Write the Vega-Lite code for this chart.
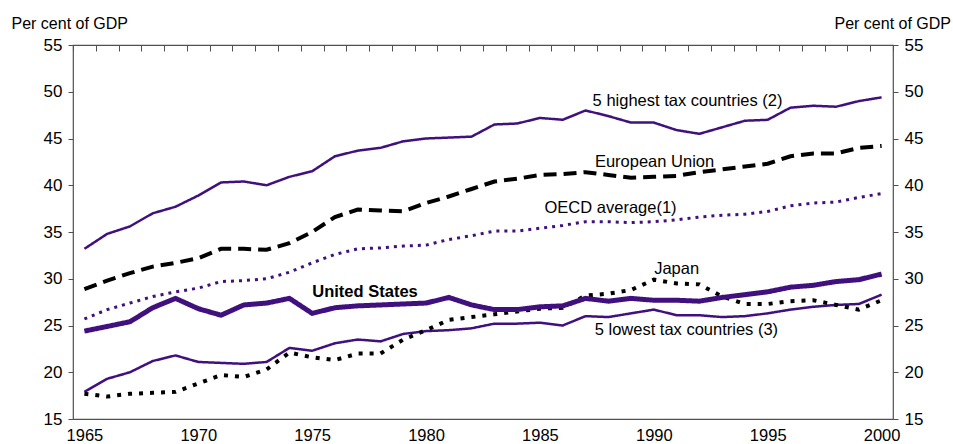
{
  "$schema": "https://vega.github.io/schema/vega-lite/v6.json",
  "autosize": {"type": "none"},
  "width": 820,
  "height": 374,
  "padding": {"left": 73, "top": 45, "right": 60, "bottom": 25},
  "config": {
    "font": "Liberation Sans",
    "view": {"stroke": "#505050", "strokeWidth": 1.2},
    "axis": {"grid": false, "labelFont": "Liberation Sans", "titleFont": "Liberation Sans", "labelColor": "#000", "titleColor": "#000", "labelFontSize": 17, "titleFontSize": 16, "titleFontWeight": "normal", "tickColor": "#505050", "domainColor": "#505050"}
  },
  "datasets": {
    "series": [
      {"year":1965,"s":"high","v":33.2},{"year":1966,"s":"high","v":34.8},{"year":1967,"s":"high","v":35.6},{"year":1968,"s":"high","v":37.0},{"year":1969,"s":"high","v":37.7},{"year":1970,"s":"high","v":38.9},{"year":1971,"s":"high","v":40.3},{"year":1972,"s":"high","v":40.4},{"year":1973,"s":"high","v":40.0},{"year":1974,"s":"high","v":40.9},{"year":1975,"s":"high","v":41.5},{"year":1976,"s":"high","v":43.1},{"year":1977,"s":"high","v":43.7},{"year":1978,"s":"high","v":44.0},{"year":1979,"s":"high","v":44.7},{"year":1980,"s":"high","v":45.0},{"year":1981,"s":"high","v":45.1},{"year":1982,"s":"high","v":45.2},{"year":1983,"s":"high","v":46.5},{"year":1984,"s":"high","v":46.6},{"year":1985,"s":"high","v":47.2},{"year":1986,"s":"high","v":47.0},{"year":1987,"s":"high","v":48.0},{"year":1988,"s":"high","v":47.4},{"year":1989,"s":"high","v":46.7},{"year":1990,"s":"high","v":46.7},{"year":1991,"s":"high","v":45.9},{"year":1992,"s":"high","v":45.5},{"year":1993,"s":"high","v":46.2},{"year":1994,"s":"high","v":46.9},{"year":1995,"s":"high","v":47.0},{"year":1996,"s":"high","v":48.3},{"year":1997,"s":"high","v":48.5},{"year":1998,"s":"high","v":48.4},{"year":1999,"s":"high","v":49.0},{"year":2000,"s":"high","v":49.4},
      {"year":1965,"s":"eu","v":28.9},{"year":1966,"s":"eu","v":29.8},{"year":1967,"s":"eu","v":30.6},{"year":1968,"s":"eu","v":31.3},{"year":1969,"s":"eu","v":31.7},{"year":1970,"s":"eu","v":32.2},{"year":1971,"s":"eu","v":33.2},{"year":1972,"s":"eu","v":33.2},{"year":1973,"s":"eu","v":33.1},{"year":1974,"s":"eu","v":33.8},{"year":1975,"s":"eu","v":35.0},{"year":1976,"s":"eu","v":36.6},{"year":1977,"s":"eu","v":37.4},{"year":1978,"s":"eu","v":37.3},{"year":1979,"s":"eu","v":37.2},{"year":1980,"s":"eu","v":38.1},{"year":1981,"s":"eu","v":38.8},{"year":1982,"s":"eu","v":39.6},{"year":1983,"s":"eu","v":40.4},{"year":1984,"s":"eu","v":40.7},{"year":1985,"s":"eu","v":41.1},{"year":1986,"s":"eu","v":41.2},{"year":1987,"s":"eu","v":41.4},{"year":1988,"s":"eu","v":41.1},{"year":1989,"s":"eu","v":40.8},{"year":1990,"s":"eu","v":40.9},{"year":1991,"s":"eu","v":41.0},{"year":1992,"s":"eu","v":41.4},{"year":1993,"s":"eu","v":41.7},{"year":1994,"s":"eu","v":42.0},{"year":1995,"s":"eu","v":42.3},{"year":1996,"s":"eu","v":43.1},{"year":1997,"s":"eu","v":43.4},{"year":1998,"s":"eu","v":43.4},{"year":1999,"s":"eu","v":44.0},{"year":2000,"s":"eu","v":44.2},
      {"year":1965,"s":"oecd","v":25.7},{"year":1966,"s":"oecd","v":26.7},{"year":1967,"s":"oecd","v":27.4},{"year":1968,"s":"oecd","v":28.1},{"year":1969,"s":"oecd","v":28.6},{"year":1970,"s":"oecd","v":29.0},{"year":1971,"s":"oecd","v":29.7},{"year":1972,"s":"oecd","v":29.8},{"year":1973,"s":"oecd","v":30.0},{"year":1974,"s":"oecd","v":30.7},{"year":1975,"s":"oecd","v":31.7},{"year":1976,"s":"oecd","v":32.6},{"year":1977,"s":"oecd","v":33.2},{"year":1978,"s":"oecd","v":33.3},{"year":1979,"s":"oecd","v":33.5},{"year":1980,"s":"oecd","v":33.6},{"year":1981,"s":"oecd","v":34.2},{"year":1982,"s":"oecd","v":34.6},{"year":1983,"s":"oecd","v":35.1},{"year":1984,"s":"oecd","v":35.1},{"year":1985,"s":"oecd","v":35.4},{"year":1986,"s":"oecd","v":35.7},{"year":1987,"s":"oecd","v":36.1},{"year":1988,"s":"oecd","v":36.1},{"year":1989,"s":"oecd","v":36.0},{"year":1990,"s":"oecd","v":36.1},{"year":1991,"s":"oecd","v":36.3},{"year":1992,"s":"oecd","v":36.6},{"year":1993,"s":"oecd","v":36.8},{"year":1994,"s":"oecd","v":36.9},{"year":1995,"s":"oecd","v":37.2},{"year":1996,"s":"oecd","v":37.8},{"year":1997,"s":"oecd","v":38.1},{"year":1998,"s":"oecd","v":38.2},{"year":1999,"s":"oecd","v":38.7},{"year":2000,"s":"oecd","v":39.1},
      {"year":1965,"s":"low","v":17.9},{"year":1966,"s":"low","v":19.3},{"year":1967,"s":"low","v":20.0},{"year":1968,"s":"low","v":21.2},{"year":1969,"s":"low","v":21.8},{"year":1970,"s":"low","v":21.1},{"year":1971,"s":"low","v":21.0},{"year":1972,"s":"low","v":20.9},{"year":1973,"s":"low","v":21.1},{"year":1974,"s":"low","v":22.6},{"year":1975,"s":"low","v":22.3},{"year":1976,"s":"low","v":23.1},{"year":1977,"s":"low","v":23.5},{"year":1978,"s":"low","v":23.3},{"year":1979,"s":"low","v":24.1},{"year":1980,"s":"low","v":24.4},{"year":1981,"s":"low","v":24.5},{"year":1982,"s":"low","v":24.7},{"year":1983,"s":"low","v":25.2},{"year":1984,"s":"low","v":25.2},{"year":1985,"s":"low","v":25.3},{"year":1986,"s":"low","v":25.0},{"year":1987,"s":"low","v":26.0},{"year":1988,"s":"low","v":25.9},{"year":1989,"s":"low","v":26.3},{"year":1990,"s":"low","v":26.7},{"year":1991,"s":"low","v":26.1},{"year":1992,"s":"low","v":26.1},{"year":1993,"s":"low","v":25.9},{"year":1994,"s":"low","v":26.0},{"year":1995,"s":"low","v":26.3},{"year":1996,"s":"low","v":26.7},{"year":1997,"s":"low","v":27.0},{"year":1998,"s":"low","v":27.2},{"year":1999,"s":"low","v":27.3},{"year":2000,"s":"low","v":28.3},
      {"year":1965,"s":"japan","v":17.7},{"year":1966,"s":"japan","v":17.4},{"year":1967,"s":"japan","v":17.7},{"year":1968,"s":"japan","v":17.8},{"year":1969,"s":"japan","v":17.9},{"year":1970,"s":"japan","v":18.8},{"year":1971,"s":"japan","v":19.7},{"year":1972,"s":"japan","v":19.5},{"year":1973,"s":"japan","v":20.3},{"year":1974,"s":"japan","v":22.1},{"year":1975,"s":"japan","v":21.6},{"year":1976,"s":"japan","v":21.3},{"year":1977,"s":"japan","v":22.0},{"year":1978,"s":"japan","v":22.0},{"year":1979,"s":"japan","v":23.5},{"year":1980,"s":"japan","v":24.5},{"year":1981,"s":"japan","v":25.6},{"year":1982,"s":"japan","v":25.9},{"year":1983,"s":"japan","v":26.2},{"year":1984,"s":"japan","v":26.5},{"year":1985,"s":"japan","v":26.8},{"year":1986,"s":"japan","v":26.9},{"year":1987,"s":"japan","v":28.2},{"year":1988,"s":"japan","v":28.4},{"year":1989,"s":"japan","v":28.8},{"year":1990,"s":"japan","v":29.9},{"year":1991,"s":"japan","v":29.5},{"year":1992,"s":"japan","v":29.4},{"year":1993,"s":"japan","v":28.1},{"year":1994,"s":"japan","v":27.3},{"year":1995,"s":"japan","v":27.3},{"year":1996,"s":"japan","v":27.6},{"year":1997,"s":"japan","v":27.7},{"year":1998,"s":"japan","v":27.2},{"year":1999,"s":"japan","v":26.7},{"year":2000,"s":"japan","v":27.7},
      {"year":1965,"s":"us","v":24.4},{"year":1966,"s":"us","v":24.9},{"year":1967,"s":"us","v":25.4},{"year":1968,"s":"us","v":26.9},{"year":1969,"s":"us","v":27.9},{"year":1970,"s":"us","v":26.8},{"year":1971,"s":"us","v":26.1},{"year":1972,"s":"us","v":27.2},{"year":1973,"s":"us","v":27.4},{"year":1974,"s":"us","v":27.9},{"year":1975,"s":"us","v":26.3},{"year":1976,"s":"us","v":26.9},{"year":1977,"s":"us","v":27.1},{"year":1978,"s":"us","v":27.2},{"year":1979,"s":"us","v":27.3},{"year":1980,"s":"us","v":27.4},{"year":1981,"s":"us","v":28.0},{"year":1982,"s":"us","v":27.2},{"year":1983,"s":"us","v":26.7},{"year":1984,"s":"us","v":26.7},{"year":1985,"s":"us","v":27.0},{"year":1986,"s":"us","v":27.1},{"year":1987,"s":"us","v":27.9},{"year":1988,"s":"us","v":27.6},{"year":1989,"s":"us","v":27.9},{"year":1990,"s":"us","v":27.7},{"year":1991,"s":"us","v":27.7},{"year":1992,"s":"us","v":27.6},{"year":1993,"s":"us","v":28.0},{"year":1994,"s":"us","v":28.3},{"year":1995,"s":"us","v":28.6},{"year":1996,"s":"us","v":29.1},{"year":1997,"s":"us","v":29.3},{"year":1998,"s":"us","v":29.7},{"year":1999,"s":"us","v":29.9},{"year":2000,"s":"us","v":30.5}
    ],
    "labels": [
      {"year":1991.48,"v":49.0,"t":"5 highest tax countries (2)","w":"normal"},
      {"year":1990.03,"v":42.47,"t":"European Union","w":"normal"},
      {"year":1988.1,"v":37.6,"t":"OECD average(1)","w":"normal"},
      {"year":1977.32,"v":28.61,"t":"United States","w":"bold"},
      {"year":1991.0,"v":31.07,"t":"Japan","w":"normal"},
      {"year":1991.43,"v":24.5,"t":"5 lowest tax countries (3)","w":"normal"}
    ]
  },
  "resolve": {"axis": {"x": "independent", "y": "independent"}},
  "layer": [
    {
      "data": {"name": "series"},
      "mark": {"type": "line", "strokeCap": "butt", "strokeJoin": "miter"},
      "encoding": {
        "x": {"field": "year", "type": "quantitative", "scale": {"domain": [1964.5, 2000.5], "nice": false, "zero": false},
              "axis": {"values": [1965,1970,1975,1980,1985,1990,1995,2000], "format": "d", "ticks": false, "domain": false, "labelPadding": 8, "labelFontSize": 16.5, "title": null, "labelFlush": false}},
        "y": {"field": "v", "type": "quantitative", "scale": {"domain": [15, 55], "nice": false, "zero": false},
              "axis": {"orient": "left", "values": [15,20,25,30,35,40,45,50,55], "tickSize": 5, "labelPadding": 6, "domain": false,
                       "title": "Per cent of GDP", "titleAngle": 0, "titleAlign": "left", "titleBaseline": "alphabetic", "titleX": -62, "titleY": -17}},
        "color": {"field": "s", "type": "nominal", "legend": null,
                  "scale": {"domain": ["high","eu","oecd","low","japan","us"], "range": ["#40107f","#000000","#40107f","#40107f","#000000","#40107f"]}},
        "strokeDash": {"field": "s", "type": "nominal", "legend": null,
                  "scale": {"domain": ["high","eu","oecd","low","japan","us"], "range": [[1,0],[13,7],[3,5],[1,0],[4,7],[1,0]]}},
        "strokeWidth": {"field": "s", "type": "nominal", "legend": null,
                  "scale": {"type": "ordinal", "domain": ["high","eu","oecd","low","japan","us"], "range": [2.5,4,3,2.5,4,5]}},
        "order": {"field": "year", "type": "quantitative"}
      }
    },
    {
      "data": {"name": "labels"},
      "transform": [{"filter": "datum.w == 'normal'"}],
      "mark": {"type": "text", "align": "center", "baseline": "middle", "fontSize": 16.5, "font": "Liberation Sans", "color": "#000"},
      "encoding": {
        "x": {"field": "year", "type": "quantitative", "scale": {"domain": [1964.5, 2000.5], "nice": false, "zero": false},
              "axis": {"values": [1964.5,1965.5,1966.5,1967.5,1968.5,1969.5,1970.5,1971.5,1972.5,1973.5,1974.5,1975.5,1976.5,1977.5,1978.5,1979.5,1980.5,1981.5,1982.5,1983.5,1984.5,1985.5,1986.5,1987.5,1988.5,1989.5,1990.5,1991.5,1992.5,1993.5,1994.5,1995.5,1996.5,1997.5,1998.5,1999.5,2000.5],
                       "labels": false, "tickSize": -6, "domain": false, "title": null}},
        "y": {"field": "v", "type": "quantitative", "scale": {"domain": [15, 55], "nice": false, "zero": false},
              "axis": {"orient": "right", "values": [15,20,25,30,35,40,45,50,55], "tickSize": 5, "labelPadding": 6, "domain": false,
                       "title": "Per cent of GDP", "titleAngle": 0, "titleAlign": "left", "titleBaseline": "alphabetic", "titleX": -59, "titleY": -17}},
        "text": {"field": "t"}
      }
    },
    {
      "data": {"name": "labels"},
      "transform": [{"filter": "datum.w == 'bold'"}],
      "mark": {"type": "text", "align": "center", "baseline": "middle", "fontSize": 16.5, "fontWeight": "bold", "font": "Liberation Sans", "color": "#000"},
      "encoding": {
        "x": {"field": "year", "type": "quantitative", "scale": {"domain": [1964.5, 2000.5], "nice": false, "zero": false}, "axis": null},
        "y": {"field": "v", "type": "quantitative", "scale": {"domain": [15, 55], "nice": false, "zero": false}, "axis": null},
        "text": {"field": "t"}
      }
    }
  ]
}
